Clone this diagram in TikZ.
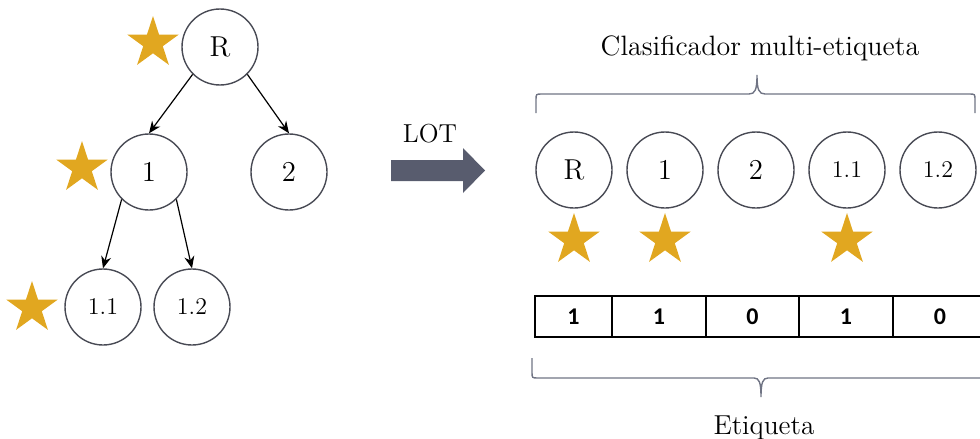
\documentclass[tikz,border=0pt]{standalone}
\usepackage{fontspec}
\usetikzlibrary{arrows.meta,shapes.geometric}
\newfontfamily\cellfont{Carlito}
\definecolor{ring}{RGB}{72,74,84}
\definecolor{gold}{RGB}{225,167,32}
\definecolor{slate}{RGB}{88,92,110}
\definecolor{bracecol}{RGB}{112,116,132}

\tikzset{
  lbl/.style={circle,draw=ring,line width=0.7pt,minimum size=38pt,inner sep=0pt,font=\Large},
  sublbl/.style={lbl,font=\large},
  goldstar/.style={star,star points=5,star point ratio=2.618,fill=gold,minimum size=27pt,inner sep=0pt},
  edge/.style={-{Stealth[length=6pt,width=5pt]},line width=0.6pt},
  brace/.style={bracecol,line width=0.7pt},
  cell/.style={draw,line width=0.8pt,inner sep=0pt,outer sep=0pt,minimum height=20.5pt,font=\cellfont\bfseries\large}
}

\begin{document}
\begin{tikzpicture}[x=0.5pt,y=-0.5pt]
  \path[use as bounding box,clip] (0,0) rectangle (980,439);

  % hierarchy of labels
  \node[lbl] (R) at (220,47) {R};
  \node[lbl] (n1) at (149,172) {1};
  \node[lbl] (n2) at (289,172) {2};
  \node[sublbl] (n11) at (103,307) {1.1};
  \node[sublbl] (n12) at (192,307) {1.2};
  \draw[edge] (R.south west) -- (n1.north);
  \draw[edge] (R.south east) -- (n2.north);
  \draw[edge] (n1.south west) -- (n11.north);
  \draw[edge] (n1.south east) -- (n12.north);
  \node[goldstar] (sR) at (153,43) {};
  \node[goldstar] (s1) at (82,168) {};
  \node[goldstar] (s11) at (32,308) {};

  % transformation arrow
  \fill[slate] (391,160) -- (463,160) -- (463,148) -- (485,170.5)
     -- (463,193) -- (463,181) -- (391,181) -- cycle;
  \node[font=\fontsize{13}{15}\selectfont] (lot) at (430,134) {LOT};

  % flat multi-label classifier
  \foreach \name/\x/\txt/\sty in {rR/574/R/lbl,r1/665/1/lbl,r2/756/2/lbl,
                                  r11/847/1.1/sublbl,r12/938/1.2/sublbl}
     \node[\sty] (\name) at (\x,170) {\txt};
  \foreach \x in {574,665,847}
     \node[goldstar] (t\x) at (\x,240) {};
  \draw[brace] (536,113) -- (536,100) .. controls (536,94) .. (542,94) -- (749,94)
     .. controls (755,94) and (757,90) .. (757,75)
     .. controls (757,90) and (759,94) .. (765,94) -- (969,94)
     .. controls (975,94) .. (975,100) -- (975,113);
  \node[font=\fontsize{14}{16}\selectfont] (clf) at (760,48) {Clasificador multi-etiqueta};

  % label vector
  \foreach \a/\b/\v [count=\i] in {535/612/1,612/706/1,706/799/0,799/893/1,893/987/0}
     \node[cell,minimum width={(\b-\a)*0.5pt}] (b\i) at ({(\a+\b)/2},316.5) {\v};
  \draw[brace] (532,358) -- (532,372) .. controls (532,378) .. (538,378) -- (754,378)
     .. controls (759,378) and (761,382) .. (761,397)
     .. controls (761,382) and (763,378) .. (768,378) -- (984,378)
     .. controls (990,378) .. (990,372) -- (990,358);
  \node[font=\fontsize{13.7}{16}\selectfont] (etq) at (764,428) {Etiqueta};
\end{tikzpicture}
\end{document}
